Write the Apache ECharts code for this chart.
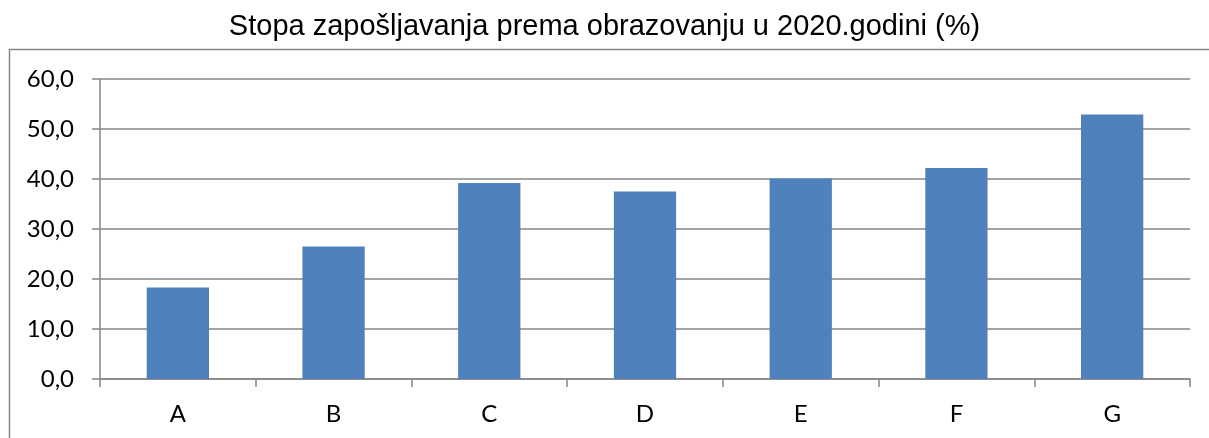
<!DOCTYPE html>
<html>
<head>
<meta charset="utf-8">
<script src="https://cdn.jsdelivr.net/npm/echarts@6/dist/echarts.min.js"></script>
<style>
  html, body { margin: 0; padding: 0; background: #fff; }
  #chart { width: 1209px; height: 438px; }
</style>
</head>
<body>
<div id="chart"></div>
<script>
  const titleText = 'Stopa zapošljavanja prema obrazovanju u 2020.godini (%)';
  const categories = ['A', 'B', 'C', 'D', 'E', 'F', 'G'];
  const values = [18.3, 26.5, 39.2, 37.5, 40.1, 42.2, 52.9];
  const yMin = 0, yMax = 60, yStep = 10;

  const myChart = echarts.init(document.getElementById('chart'));
  const gray = '#868686';
  myChart.setOption({
    animation: false,
    title: {
      text: titleText,
      left: 'center',
      top: 7,
      textStyle: {
        fontFamily: 'Liberation Sans',
        fontSize: 29,
        fontWeight: 'normal',
        color: '#000'
      }
    },
    graphic: [{
      type: 'rect',
      shape: { x: 9.5, y: 49.5, width: 1210, height: 400 },
      style: { fill: 'none', stroke: gray, lineWidth: 1.5 },
      silent: true
    }],
    grid: { left: 100, right: 19, top: 79, bottom: 59 },
    xAxis: {
      type: 'category',
      data: categories,
      axisLine: { show: true, lineStyle: { color: gray, width: 1.5 } },
      axisTick: { show: true, length: 8, lineStyle: { color: gray, width: 1.5 } },
      axisLabel: { margin: 23, color: '#000', fontFamily: 'Lato', fontSize: 24 }
    },
    yAxis: {
      type: 'value',
      min: yMin,
      max: yMax,
      interval: yStep,
      axisLine: { show: true, lineStyle: { color: gray, width: 1.5 } },
      axisTick: { show: true, length: 8, lineStyle: { color: gray, width: 1.5 } },
      splitLine: { show: true, lineStyle: { color: gray, width: 1.5 } },
      axisLabel: {
        margin: 26,
        color: '#000',
        fontFamily: 'Lato',
        fontSize: 24,
        formatter: function (v) { return v.toFixed(1).replace('.', ','); }
      }
    },
    series: [{
      type: 'bar',
      data: values,
      barCategoryGap: '60%',
      itemStyle: { color: '#4F81BD' }
    }]
  });
</script>
</body>
</html>
